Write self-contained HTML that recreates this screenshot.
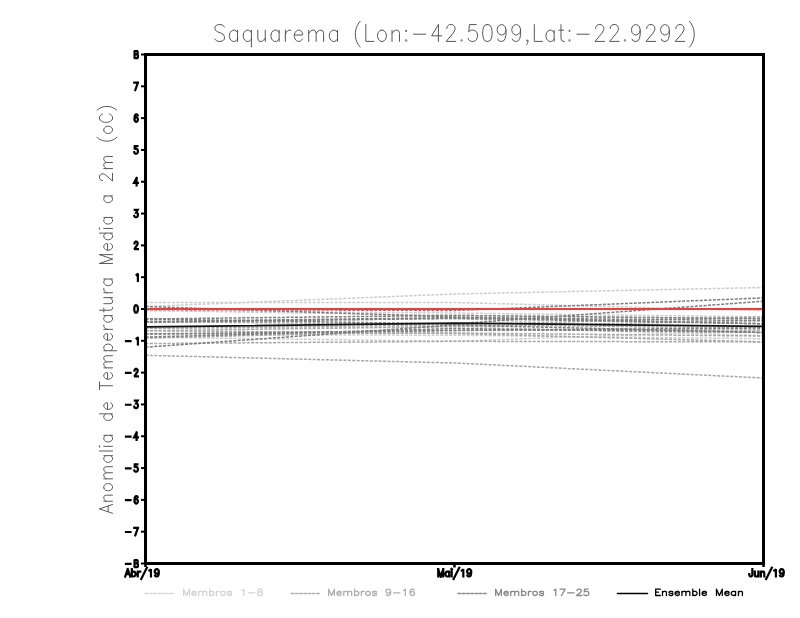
<!DOCTYPE html>
<html><head><meta charset="utf-8"><style>
html,body{margin:0;padding:0;background:#fff;width:800px;height:618px;overflow:hidden}
svg{display:block}
</style></head><body>
<svg width="800" height="618" viewBox="0 0 800 618">
<rect width="800" height="618" fill="#fff"/>
<g fill="none" stroke-linecap="round" stroke-linejoin="round">
<path d="M224.41,27.00L223.06,25.40 221.02,24.60 218.31,24.60 216.27,25.40 214.91,27.00 214.91,28.60 215.59,30.20 216.27,31.00 217.63,31.80 221.70,33.40 223.06,34.20 223.73,35.00 224.41,36.60 224.41,39.00 223.06,40.60 221.02,41.40 218.31,41.40 216.27,40.60 214.91,39.00M237.54,30.20L237.54,41.40M237.54,32.60L236.19,31.00 234.83,30.20 232.79,30.20 231.44,31.00 230.08,32.60 229.40,35.00 229.40,36.60 230.08,39.00 231.44,40.60 232.79,41.40 234.83,41.40 236.19,40.60 237.54,39.00M251.40,30.20L251.40,47.00M251.40,32.60L250.05,31.00 248.69,30.20 246.66,30.20 245.30,31.00 243.94,32.60 243.26,35.00 243.26,36.60 243.94,39.00 245.30,40.60 246.66,41.40 248.69,41.40 250.05,40.60 251.40,39.00M257.80,30.20L257.80,38.20 258.48,40.60 259.84,41.40 261.87,41.40 263.23,40.60 265.26,38.20M265.26,30.20L265.26,41.40M279.13,30.20L279.13,41.40M279.13,32.60L277.77,31.00 276.41,30.20 274.38,30.20 273.02,31.00 271.66,32.60 270.98,35.00 270.98,36.60 271.66,39.00 273.02,40.60 274.38,41.40 276.41,41.40 277.77,40.60 279.13,39.00M285.37,30.20L285.37,41.40M285.37,35.00L286.05,32.60 287.41,31.00 288.76,30.20 290.80,30.20M294.33,35.00L302.47,35.00 302.47,33.40 301.79,31.80 301.11,31.00 299.76,30.20 297.72,30.20 296.36,31.00 295.01,32.60 294.33,35.00 294.33,36.60 295.01,39.00 296.36,40.60 297.72,41.40 299.76,41.40 301.11,40.60 302.47,39.00M308.70,30.20L308.70,41.40M308.70,33.40L310.73,31.00 312.09,30.20 314.13,30.20 315.48,31.00 316.16,33.40 316.16,41.40M316.16,33.40L318.20,31.00 319.55,30.20 321.59,30.20 322.95,31.00 323.62,33.40 323.62,41.40M337.49,30.20L337.49,41.40M337.49,32.60L336.13,31.00 334.77,30.20 332.74,30.20 331.38,31.00 330.02,32.60 329.34,35.00 329.34,36.60 330.02,39.00 331.38,40.60 332.74,41.40 334.77,41.40 336.13,40.60 337.49,39.00M360.10,21.40L358.74,23.00 357.39,25.40 356.03,28.60 355.35,32.60 355.35,35.80 356.03,39.80 357.39,43.00 358.74,45.40 360.10,47.00M365.82,24.60L365.82,41.40 373.96,41.40M380.93,30.20L379.58,31.00 378.22,32.60 377.54,35.00 377.54,36.60 378.22,39.00 379.58,40.60 380.93,41.40 382.97,41.40 384.33,40.60 385.68,39.00 386.36,36.60 386.36,35.00 385.68,32.60 384.33,31.00 382.97,30.20 380.93,30.20M392.03,30.20L392.03,41.40M392.03,33.40L394.07,31.00 395.42,30.20 397.46,30.20 398.81,31.00 399.49,33.40 399.49,41.40M406.11,30.20L405.43,31.00 406.11,31.80 406.79,31.00 406.11,30.20M406.11,39.80L405.43,40.60 406.11,41.40 406.79,40.60 406.11,39.80M413.54,34.20L425.75,34.20M438.41,24.60L431.63,35.80 441.80,35.80M438.41,24.60L438.41,41.40M446.84,28.60L446.84,27.80 447.52,26.20 448.20,25.40 449.56,24.60 452.27,24.60 453.63,25.40 454.31,26.20 454.99,27.80 454.99,29.40 454.31,31.00 452.95,33.40 446.17,41.40 455.66,41.40M461.55,39.80L460.87,40.60 461.55,41.40 462.23,40.60 461.55,39.80M476.19,24.60L469.41,24.60 468.73,31.80 469.41,31.00 471.44,30.20 473.48,30.20 475.51,31.00 476.87,32.60 477.55,35.00 477.55,36.60 476.87,39.00 475.51,40.60 473.48,41.40 471.44,41.40 469.41,40.60 468.73,39.80 468.05,38.20M486.71,24.60L484.68,25.40 483.32,27.80 482.64,31.80 482.64,34.20 483.32,38.20 484.68,40.60 486.71,41.40 488.07,41.40 490.10,40.60 491.46,38.20 492.14,34.20 492.14,31.80 491.46,27.80 490.10,25.40 488.07,24.60 486.71,24.60M506.00,30.20L505.32,32.60 503.96,34.20 501.93,35.00 501.25,35.00 499.22,34.20 497.86,32.60 497.18,30.20 497.18,29.40 497.86,27.00 499.22,25.40 501.25,24.60 501.93,24.60 503.96,25.40 505.32,27.00 506.00,30.20 506.00,34.20 505.32,38.20 503.96,40.60 501.93,41.40 500.57,41.40 498.54,40.60 497.86,39.00M520.59,30.20L519.91,32.60 518.55,34.20 516.52,35.00 515.84,35.00 513.81,34.20 512.45,32.60 511.77,30.20 511.77,29.40 512.45,27.00 513.81,25.40 515.84,24.60 516.52,24.60 518.55,25.40 519.91,27.00 520.59,30.20 520.59,34.20 519.91,38.20 518.55,40.60 516.52,41.40 515.16,41.40 513.13,40.60 512.45,39.00M527.88,40.60L527.21,41.40 526.53,40.60 527.21,39.80 527.88,40.60 527.88,42.20 527.21,43.80 526.53,44.60M534.33,24.60L534.33,41.40 542.48,41.40M554.15,30.20L554.15,41.40M554.15,32.60L552.79,31.00 551.43,30.20 549.40,30.20 548.04,31.00 546.68,32.60 546.01,35.00 546.01,36.60 546.68,39.00 548.04,40.60 549.40,41.40 551.43,41.40 552.79,40.60 554.15,39.00M560.97,24.60L560.97,38.20 561.65,40.60 563.00,41.40 564.36,41.40M558.93,30.20L563.68,30.20M569.52,30.20L568.84,31.00 569.52,31.80 570.20,31.00 569.52,30.20M569.52,39.80L568.84,40.60 569.52,41.40 570.20,40.60 569.52,39.80M576.95,34.20L589.16,34.20M595.66,28.60L595.66,27.80 596.34,26.20 597.02,25.40 598.38,24.60 601.09,24.60 602.45,25.40 603.13,26.20 603.80,27.80 603.80,29.40 603.13,31.00 601.77,33.40 594.98,41.40 604.48,41.40M610.25,28.60L610.25,27.80 610.93,26.20 611.61,25.40 612.97,24.60 615.68,24.60 617.04,25.40 617.72,26.20 618.39,27.80 618.39,29.40 617.72,31.00 616.36,33.40 609.57,41.40 619.07,41.40M624.96,39.80L624.28,40.60 624.96,41.40 625.64,40.60 624.96,39.80M640.23,30.20L639.55,32.60 638.19,34.20 636.16,35.00 635.48,35.00 633.44,34.20 632.09,32.60 631.41,30.20 631.41,29.40 632.09,27.00 633.44,25.40 635.48,24.60 636.16,24.60 638.19,25.40 639.55,27.00 640.23,30.20 640.23,34.20 639.55,38.20 638.19,40.60 636.16,41.40 634.80,41.40 632.77,40.60 632.09,39.00M646.73,28.60L646.73,27.80 647.41,26.20 648.08,25.40 649.44,24.60 652.16,24.60 653.51,25.40 654.19,26.20 654.87,27.80 654.87,29.40 654.19,31.00 652.83,33.40 646.05,41.40 655.55,41.40M669.41,30.20L668.73,32.60 667.37,34.20 665.34,35.00 664.66,35.00 662.62,34.20 661.27,32.60 660.59,30.20 660.59,29.40 661.27,27.00 662.62,25.40 664.66,24.60 665.34,24.60 667.37,25.40 668.73,27.00 669.41,30.20 669.41,34.20 668.73,38.20 667.37,40.60 665.34,41.40 663.98,41.40 661.95,40.60 661.27,39.00M675.91,28.60L675.91,27.80 676.59,26.20 677.26,25.40 678.62,24.60 681.34,24.60 682.69,25.40 683.37,26.20 684.05,27.80 684.05,29.40 683.37,31.00 682.01,33.40 675.23,41.40 684.73,41.40M689.46,21.40L690.82,23.00 692.18,25.40 693.53,28.60 694.21,32.60 694.21,35.80 693.53,39.80 692.18,43.00 690.82,45.40 689.46,47.00" stroke="#555" stroke-width="1.0"/>
<path transform="translate(112.5,513.3) rotate(-90)" d="M4.42,-13.00L0.00,0.00M4.42,-13.00L8.84,0.00M1.66,-4.33L7.18,-4.33M12.06,-8.67L12.06,0.00M12.06,-6.19L13.72,-8.05 14.82,-8.67 16.48,-8.67 17.58,-8.05 18.13,-6.19 18.13,0.00M25.34,-8.67L24.23,-8.05 23.13,-6.81 22.58,-4.95 22.58,-3.71 23.13,-1.86 24.23,-0.62 25.34,0.00 26.99,0.00 28.10,-0.62 29.20,-1.86 29.75,-3.71 29.75,-4.95 29.20,-6.81 28.10,-8.05 26.99,-8.67 25.34,-8.67M34.46,-8.67L34.46,0.00M34.46,-6.19L36.11,-8.05 37.22,-8.67 38.87,-8.67 39.98,-8.05 40.53,-6.19 40.53,0.00M40.53,-6.19L42.19,-8.05 43.29,-8.67 44.95,-8.67 46.05,-8.05 46.60,-6.19 46.60,0.00M57.64,-8.67L57.64,0.00M57.64,-6.81L56.54,-8.05 55.43,-8.67 53.78,-8.67 52.67,-8.05 51.57,-6.81 51.02,-4.95 51.02,-3.71 51.57,-1.86 52.67,-0.62 53.78,0.00 55.43,0.00 56.54,-0.62 57.64,-1.86M62.29,-13.00L62.29,0.00M66.41,-13.00L66.97,-12.38 67.52,-13.00 66.97,-13.62 66.41,-13.00M66.97,-8.67L66.97,0.00M77.97,-8.67L77.97,0.00M77.97,-6.81L76.87,-8.05 75.77,-8.67 74.11,-8.67 73.01,-8.05 71.90,-6.81 71.35,-4.95 71.35,-3.71 71.90,-1.86 73.01,-0.62 74.11,0.00 75.77,0.00 76.87,-0.62 77.97,-1.86M99.47,-13.00L99.47,0.00M99.47,-6.81L98.37,-8.05 97.26,-8.67 95.61,-8.67 94.50,-8.05 93.40,-6.81 92.85,-4.95 92.85,-3.71 93.40,-1.86 94.50,-0.62 95.61,0.00 97.26,0.00 98.37,-0.62 99.47,-1.86M103.89,-4.95L110.51,-4.95 110.51,-6.19 109.96,-7.43 109.41,-8.05 108.30,-8.67 106.65,-8.67 105.54,-8.05 104.44,-6.81 103.89,-4.95 103.89,-3.71 104.44,-1.86 105.54,-0.62 106.65,0.00 108.30,0.00 109.41,-0.62 110.51,-1.86M127.56,-13.00L127.56,0.00M123.70,-13.00L131.43,-13.00M134.10,-4.95L140.72,-4.95 140.72,-6.19 140.17,-7.43 139.62,-8.05 138.52,-8.67 136.86,-8.67 135.76,-8.05 134.65,-6.81 134.10,-4.95 134.10,-3.71 134.65,-1.86 135.76,-0.62 136.86,0.00 138.52,0.00 139.62,-0.62 140.72,-1.86M145.43,-8.67L145.43,0.00M145.43,-6.19L147.08,-8.05 148.19,-8.67 149.84,-8.67 150.95,-8.05 151.50,-6.19 151.50,0.00M151.50,-6.19L153.16,-8.05 154.26,-8.67 155.92,-8.67 157.02,-8.05 157.57,-6.19 157.57,0.00M162.57,-8.67L162.57,4.33M162.57,-6.81L163.67,-8.05 164.78,-8.67 166.43,-8.67 167.54,-8.05 168.64,-6.81 169.19,-4.95 169.19,-3.71 168.64,-1.86 167.54,-0.62 166.43,0.00 164.78,0.00 163.67,-0.62 162.57,-1.86M173.03,-4.95L179.65,-4.95 179.65,-6.19 179.10,-7.43 178.55,-8.05 177.44,-8.67 175.79,-8.67 174.68,-8.05 173.58,-6.81 173.03,-4.95 173.03,-3.71 173.58,-1.86 174.68,-0.62 175.79,0.00 177.44,0.00 178.55,-0.62 179.65,-1.86M183.95,-8.67L183.95,0.00M183.95,-4.95L184.50,-6.81 185.61,-8.05 186.71,-8.67 188.36,-8.67M197.66,-8.67L197.66,0.00M197.66,-6.81L196.56,-8.05 195.45,-8.67 193.80,-8.67 192.69,-8.05 191.59,-6.81 191.04,-4.95 191.04,-3.71 191.59,-1.86 192.69,-0.62 193.80,0.00 195.45,0.00 196.56,-0.62 197.66,-1.86M203.04,-13.00L203.04,-2.48 203.59,-0.62 204.69,0.00 205.79,0.00M201.38,-8.67L205.24,-8.67M209.60,-8.67L209.60,-2.48 210.15,-0.62 211.26,0.00 212.91,0.00 214.02,-0.62 215.67,-2.48M215.67,-8.67L215.67,0.00M220.55,-8.67L220.55,0.00M220.55,-4.95L221.10,-6.81 222.21,-8.05 223.31,-8.67 224.97,-8.67M234.26,-8.67L234.26,0.00M234.26,-6.81L233.16,-8.05 232.06,-8.67 230.40,-8.67 229.30,-8.05 228.19,-6.81 227.64,-4.95 227.64,-3.71 228.19,-1.86 229.30,-0.62 230.40,0.00 232.06,0.00 233.16,-0.62 234.26,-1.86M249.83,-13.00L249.83,0.00M249.83,-13.00L254.25,0.00M258.67,-13.00L254.25,0.00M258.67,-13.00L258.67,0.00M263.08,-4.95L269.70,-4.95 269.70,-6.19 269.15,-7.43 268.60,-8.05 267.50,-8.67 265.84,-8.67 264.74,-8.05 263.63,-6.81 263.08,-4.95 263.08,-3.71 263.63,-1.86 264.74,-0.62 265.84,0.00 267.50,0.00 268.60,-0.62 269.70,-1.86M280.16,-13.00L280.16,0.00M280.16,-6.81L279.06,-8.05 277.96,-8.67 276.30,-8.67 275.20,-8.05 274.09,-6.81 273.54,-4.95 273.54,-3.71 274.09,-1.86 275.20,-0.62 276.30,0.00 277.96,0.00 279.06,-0.62 280.16,-1.86M284.29,-13.00L284.84,-12.38 285.39,-13.00 284.84,-13.62 284.29,-13.00M284.84,-8.67L284.84,0.00M295.85,-8.67L295.85,0.00M295.85,-6.81L294.75,-8.05 293.64,-8.67 291.99,-8.67 290.88,-8.05 289.78,-6.81 289.23,-4.95 289.23,-3.71 289.78,-1.86 290.88,-0.62 291.99,0.00 293.64,0.00 294.75,-0.62 295.85,-1.86M317.35,-8.67L317.35,0.00M317.35,-6.81L316.24,-8.05 315.14,-8.67 313.48,-8.67 312.38,-8.05 311.28,-6.81 310.72,-4.95 310.72,-3.71 311.28,-1.86 312.38,-0.62 313.48,0.00 315.14,0.00 316.24,-0.62 317.35,-1.86M332.83,-9.90L332.83,-10.52 333.38,-11.76 333.93,-12.38 335.04,-13.00 337.25,-13.00 338.35,-12.38 338.90,-11.76 339.45,-10.52 339.45,-9.29 338.90,-8.05 337.80,-6.19 332.28,0.00 340.01,0.00M344.71,-8.67L344.71,0.00M344.71,-6.19L346.37,-8.05 347.47,-8.67 349.13,-8.67 350.23,-8.05 350.78,-6.19 350.78,0.00M350.78,-6.19L352.44,-8.05 353.54,-8.67 355.20,-8.67 356.30,-8.05 356.85,-6.19 356.85,0.00M376.03,-15.47L374.92,-14.24 373.82,-12.38 372.72,-9.90 372.16,-6.81 372.16,-4.33 372.72,-1.24 373.82,1.24 374.92,3.09 376.03,4.33M382.65,-8.67L381.55,-8.05 380.44,-6.81 379.89,-4.95 379.89,-3.71 380.44,-1.86 381.55,-0.62 382.65,0.00 384.31,0.00 385.41,-0.62 386.52,-1.86 387.07,-3.71 387.07,-4.95 386.52,-6.81 385.41,-8.05 384.31,-8.67 382.65,-8.67M399.27,-9.90L398.72,-11.14 397.61,-12.38 396.51,-13.00 394.30,-13.00 393.20,-12.38 392.09,-11.14 391.54,-9.90 390.99,-8.05 390.99,-4.95 391.54,-3.09 392.09,-1.86 393.20,-0.62 394.30,0.00 396.51,0.00 397.61,-0.62 398.72,-1.86 399.27,-3.09M402.96,-15.47L404.06,-14.24 405.17,-12.38 406.27,-9.90 406.82,-6.81 406.82,-4.33 406.27,-1.24 405.17,1.24 404.06,3.09 402.96,4.33" stroke="#5a5a5a" stroke-width="1.0"/>
</g>
<g fill="none" stroke-width="1.5" stroke-dasharray="3 1.4">
<polyline points="145.5,306.5 454.5,294 763.5,287.5" stroke="#cdcdcd"/>
<polyline points="145.5,302.4 454.5,302.5 763.5,310.6" stroke="#cdcdcd"/>
<polyline points="145.5,310.5 454.5,313 763.5,316.9" stroke="#cdcdcd"/>
<polyline points="145.5,334.6 454.5,335.25 763.5,338.75" stroke="#cdcdcd"/>
<polyline points="145.5,328.4 454.5,326.6 763.5,335.6" stroke="#cdcdcd"/>
<polyline points="145.5,310.5 454.5,315.4 763.5,318.75" stroke="#cdcdcd"/>
<polyline points="145.5,322.3 454.5,318.4 763.5,332.5" stroke="#cdcdcd"/>
<polyline points="145.5,337.2 454.5,341.3 763.5,330" stroke="#cdcdcd"/>
<polyline points="145.5,328.4 454.5,324.75 763.5,316.9" stroke="#a6a6a6"/>
<polyline points="145.5,330.7 454.5,326.6 763.5,320.6" stroke="#a6a6a6"/>
<polyline points="145.5,355.3 454.5,363 763.5,378" stroke="#a6a6a6"/>
<polyline points="145.5,343.6 454.5,341.3 763.5,341.9" stroke="#a6a6a6"/>
<polyline points="145.5,338.1 454.5,330.4 763.5,330" stroke="#a6a6a6"/>
<polyline points="145.5,321.5 454.5,324.75 763.5,328" stroke="#a6a6a6"/>
<polyline points="145.5,333.9 454.5,333 763.5,336" stroke="#a6a6a6"/>
<polyline points="145.5,330.7 454.5,333.5 763.5,341.9" stroke="#a6a6a6"/>
<polyline points="145.5,309.5 454.5,310.5 763.5,297.9" stroke="#7c7c7c"/>
<polyline points="145.5,319 454.5,324 763.5,301.25" stroke="#7c7c7c"/>
<polyline points="145.5,319 454.5,315.4 763.5,318.75" stroke="#7c7c7c"/>
<polyline points="145.5,321.5 454.5,317.6 763.5,320.6" stroke="#7c7c7c"/>
<polyline points="145.5,322.3 454.5,318.4 763.5,323.75" stroke="#7c7c7c"/>
<polyline points="145.5,333.9 454.5,330.4 763.5,328" stroke="#7c7c7c"/>
<polyline points="145.5,337.2 454.5,328.5 763.5,332.5" stroke="#7c7c7c"/>
<polyline points="145.5,347.2 454.5,325 763.5,332.5" stroke="#7c7c7c"/>
<polyline points="145.5,306.5 454.5,317 763.5,323.75" stroke="#7c7c7c"/>
</g>
<polyline points="145.5,309.0 763.5,309.0" fill="none" stroke="rgb(250,55,55)" stroke-width="2"/>
<polyline points="145.5,326.9 454.5,323.1 763.5,326.3" fill="none" stroke="#111" stroke-width="1.8"/>
<g stroke="#000" stroke-width="2">
<line x1="141" y1="563.50" x2="145" y2="563.50"/>
<line x1="141" y1="531.69" x2="145" y2="531.69"/>
<line x1="141" y1="499.88" x2="145" y2="499.88"/>
<line x1="141" y1="468.06" x2="145" y2="468.06"/>
<line x1="141" y1="436.25" x2="145" y2="436.25"/>
<line x1="141" y1="404.44" x2="145" y2="404.44"/>
<line x1="141" y1="372.62" x2="145" y2="372.62"/>
<line x1="141" y1="340.81" x2="145" y2="340.81"/>
<line x1="141" y1="309.00" x2="145" y2="309.00"/>
<line x1="141" y1="277.19" x2="145" y2="277.19"/>
<line x1="141" y1="245.38" x2="145" y2="245.38"/>
<line x1="141" y1="213.56" x2="145" y2="213.56"/>
<line x1="141" y1="181.75" x2="145" y2="181.75"/>
<line x1="141" y1="149.94" x2="145" y2="149.94"/>
<line x1="141" y1="118.12" x2="145" y2="118.12"/>
<line x1="141" y1="86.31" x2="145" y2="86.31"/>
<line x1="141" y1="54.50" x2="145" y2="54.50"/>
<line x1="454.5" y1="565" x2="454.5" y2="567.5" stroke-width="2.5"/>
<line x1="145.5" y1="565" x2="145.5" y2="567" stroke-width="2.5"/>
<line x1="763.5" y1="565" x2="763.5" y2="567" stroke-width="2.5"/>
</g>
<rect x="145.5" y="54.5" width="618" height="509" fill="none" stroke="#000" stroke-width="3"/>
<g fill="none" stroke="#000" stroke-linecap="square" stroke-linejoin="miter" stroke-miterlimit="2" stroke-width="2.2">
<path d="M134.78,563.30L137.12,563.30 137.64,562.59 137.64,560.81 137.12,560.10 134.78,560.10 134.52,560.46 134.52,566.85 134.78,567.20 137.38,567.20 137.90,566.31 137.90,564.18 137.38,563.30M126.0,563.80L130.5,563.80M137.90,527.93L135.30,535.39M134.26,527.93L137.90,527.93M126.0,531.99L130.5,531.99M137.64,497.19L137.38,496.47 136.60,496.12 136.08,496.12 135.30,496.47 134.78,497.54 134.52,499.31 134.52,501.09 134.78,502.51 135.30,503.22 136.08,503.57 136.34,503.57 137.12,503.22 137.64,502.51 137.90,501.44 137.90,501.09 137.64,500.02 137.12,499.31 136.34,498.96 136.08,498.96 135.30,499.31 134.78,500.02 134.52,501.09M126.0,500.18L130.5,500.18M137.38,464.31L134.78,464.31 134.52,467.50 134.78,467.15 135.56,466.79 136.34,466.79 137.12,467.15 137.64,467.86 137.90,468.92 137.90,469.63 137.64,470.70 137.12,471.41 136.34,471.76 135.56,471.76 134.78,471.41 134.52,471.05 134.26,470.34M126.0,468.36L130.5,468.36M136.60,432.50L134.00,437.46 137.90,437.46M136.60,432.50L136.60,439.95M126.0,436.55L130.5,436.55M134.78,400.68L137.64,400.68 136.08,403.52 136.86,403.52 137.38,403.88 137.64,404.23 137.90,405.30 137.90,406.01 137.64,407.07 137.12,407.78 136.34,408.14 135.56,408.14 134.78,407.78 134.52,407.43 134.26,406.72M126.0,404.74L130.5,404.74M134.52,370.64L134.52,370.29 134.78,369.58 135.04,369.22 135.56,368.87 136.60,368.87 137.12,369.22 137.38,369.58 137.64,370.29 137.64,371.00 137.38,371.71 136.86,372.77 134.26,376.32 137.90,376.32M126.0,372.93L130.5,372.93M136.60,338.48L137.12,338.12 137.90,337.06 137.90,344.51M126.0,341.11L130.5,341.11M135.82,305.25L135.04,305.60 134.52,306.66 134.26,308.44 134.26,309.50 134.52,311.28 135.04,312.34 135.82,312.70 136.34,312.70 137.12,312.34 137.64,311.28 137.90,309.50 137.90,308.44 137.64,306.66 137.12,305.60 136.34,305.25 135.82,305.25M136.60,274.85L137.12,274.50 137.90,273.43 137.90,280.89M134.52,243.39L134.52,243.04 134.78,242.33 135.04,241.97 135.56,241.62 136.60,241.62 137.12,241.97 137.38,242.33 137.64,243.04 137.64,243.75 137.38,244.46 136.86,245.52 134.26,249.07 137.90,249.07M134.78,209.81L137.64,209.81 136.08,212.65 136.86,212.65 137.38,213.00 137.64,213.36 137.90,214.42 137.90,215.13 137.64,216.20 137.12,216.91 136.34,217.26 135.56,217.26 134.78,216.91 134.52,216.55 134.26,215.84M136.60,177.99L134.00,182.96 137.90,182.96M136.60,177.99L136.60,185.45M137.38,146.18L134.78,146.18 134.52,149.38 134.78,149.02 135.56,148.67 136.34,148.67 137.12,149.02 137.64,149.73 137.90,150.80 137.90,151.51 137.64,152.57 137.12,153.28 136.34,153.64 135.56,153.64 134.78,153.28 134.52,152.93 134.26,152.22M137.64,115.44L137.38,114.73 136.60,114.37 136.08,114.37 135.30,114.73 134.78,115.79 134.52,117.56 134.52,119.34 134.78,120.76 135.30,121.47 136.08,121.83 136.34,121.83 137.12,121.47 137.64,120.76 137.90,119.70 137.90,119.34 137.64,118.28 137.12,117.56 136.34,117.21 136.08,117.21 135.30,117.56 134.78,118.28 134.52,119.34M137.90,82.56L135.30,90.01M134.26,82.56L137.90,82.56M134.78,54.30L137.12,54.30 137.64,53.59 137.64,51.81 137.12,51.10 134.78,51.10 134.52,51.46 134.52,57.85 134.78,58.20 137.38,58.20 137.90,57.31 137.90,55.18 137.38,54.30"/>
<path d="M127.71,569.15L125.20,576.50M127.71,569.15L130.22,576.50M126.14,574.05L129.28,574.05M131.79,569.15L131.79,576.50M131.79,572.65L132.42,571.95 133.05,571.60 133.99,571.60 134.62,571.95 135.25,572.65 135.56,573.70 135.56,574.40 135.25,575.45 134.62,576.15 133.99,576.50 133.05,576.50 132.42,576.15 131.79,575.45M137.76,571.60L137.76,576.50M137.76,573.70L138.07,572.65 138.70,571.95 139.33,571.60 140.27,571.60M146.87,567.75L141.21,578.95M149.38,570.55L150.01,570.20 150.95,569.15 150.95,576.50M158.80,571.60L158.48,572.65 157.86,573.35 156.91,573.70 156.60,573.70 155.66,573.35 155.03,572.65 154.72,571.60 154.72,571.25 155.03,570.20 155.66,569.50 156.60,569.15 156.91,569.15 157.86,569.50 158.48,570.20 158.80,571.60 158.80,573.35 158.48,575.10 157.86,576.15 156.91,576.50 156.29,576.50 155.34,576.15 155.03,575.45M438.20,569.15L438.20,576.50M438.20,569.15L440.71,576.50M443.22,569.15L440.71,576.50M443.22,569.15L443.22,576.50M449.19,571.60L449.19,576.50M449.19,572.65L448.56,571.95 447.93,571.60 446.99,571.60 446.36,571.95 445.74,572.65 445.42,573.70 445.42,574.40 445.74,575.45 446.36,576.15 446.99,576.50 447.93,576.50 448.56,576.15 449.19,575.45M451.39,569.15L451.70,569.50 452.02,569.15 451.70,568.80 451.39,569.15M451.70,571.60L451.70,576.50M459.24,567.75L453.59,578.95M461.75,570.55L462.38,570.20 463.32,569.15 463.32,576.50M471.17,571.60L470.86,572.65 470.23,573.35 469.29,573.70 468.97,573.70 468.03,573.35 467.40,572.65 467.09,571.60 467.09,571.25 467.40,570.20 468.03,569.50 468.97,569.15 469.29,569.15 470.23,569.50 470.86,570.20 471.17,571.60 471.17,573.35 470.86,575.10 470.23,576.15 469.29,576.50 468.66,576.50 467.72,576.15 467.40,575.45M752.34,569.15L752.34,574.75 752.03,575.80 751.71,576.15 751.08,576.50 750.46,576.50 749.83,576.15 749.51,575.80 749.20,574.75 749.20,574.05M754.85,571.60L754.85,575.10 755.17,576.15 755.79,576.50 756.74,576.50 757.36,576.15 758.31,575.10M758.31,571.60L758.31,576.50M760.82,571.60L760.82,576.50M760.82,573.00L761.76,571.95 762.39,571.60 763.33,571.60 763.96,571.95 764.27,573.00 764.27,576.50M771.81,567.75L766.16,578.95M774.32,570.55L774.95,570.20 775.89,569.15 775.89,576.50M783.74,571.60L783.43,572.65 782.80,573.35 781.86,573.70 781.54,573.70 780.60,573.35 779.97,572.65 779.66,571.60 779.66,571.25 779.97,570.20 780.60,569.50 781.54,569.15 781.86,569.15 782.80,569.50 783.43,570.20 783.74,571.60 783.74,573.35 783.43,575.10 782.80,576.15 781.86,576.50 781.23,576.50 780.29,576.15 779.97,575.45"/>
</g>
<g fill="none" stroke-linecap="round" stroke-linejoin="round" stroke-width="1.3">
<line x1="145" y1="593.5" x2="174.5" y2="593.5" stroke="#d8d8d8" stroke-width="1.3" stroke-dasharray="2.8 1.45"/>
<path d="M183.65,589.20L183.65,595.50M183.65,589.20L186.53,595.50M189.41,589.20L186.53,595.50M189.41,589.20L189.41,595.50M191.93,593.10L196.25,593.10 196.25,592.50 195.89,591.90 195.53,591.60 194.81,591.30 193.73,591.30 193.01,591.60 192.29,592.20 191.93,593.10 191.93,593.70 192.29,594.60 193.01,595.20 193.73,595.50 194.81,595.50 195.53,595.20 196.25,594.60M198.77,591.30L198.77,595.50M198.77,592.50L199.85,591.60 200.57,591.30 201.65,591.30 202.37,591.60 202.73,592.50 202.73,595.50M202.73,592.50L203.81,591.60 204.53,591.30 205.61,591.30 206.33,591.60 206.69,592.50 206.69,595.50M209.57,589.20L209.57,595.50M209.57,592.20L210.29,591.60 211.01,591.30 212.09,591.30 212.81,591.60 213.53,592.20 213.89,593.10 213.89,593.70 213.53,594.60 212.81,595.20 212.09,595.50 211.01,595.50 210.29,595.20 209.57,594.60M216.41,591.30L216.41,595.50M216.41,593.10L216.77,592.20 217.49,591.60 218.21,591.30 219.29,591.30M222.53,591.30L221.81,591.60 221.09,592.20 220.73,593.10 220.73,593.70 221.09,594.60 221.81,595.20 222.53,595.50 223.61,595.50 224.33,595.20 225.05,594.60 225.41,593.70 225.41,593.10 225.05,592.20 224.33,591.60 223.61,591.30 222.53,591.30M231.53,592.20L231.17,591.60 230.09,591.30 229.01,591.30 227.93,591.60 227.57,592.20 227.93,592.80 228.65,593.10 230.45,593.40 231.17,593.70 231.53,594.30 231.53,594.60 231.17,595.20 230.09,595.50 229.01,595.50 227.93,595.20 227.57,594.60M241.97,590.40L242.69,590.10 243.77,589.20 243.77,595.50M248.45,592.80L254.93,592.80M259.25,589.20L258.17,589.50 257.81,590.10 257.81,590.70 258.17,591.30 258.89,591.60 260.33,591.90 261.41,592.20 262.13,592.80 262.49,593.40 262.49,594.30 262.13,594.90 261.77,595.20 260.69,595.50 259.25,595.50 258.17,595.20 257.81,594.90 257.45,594.30 257.45,593.40 257.81,592.80 258.53,592.20 259.61,591.90 261.05,591.60 261.77,591.30 262.13,590.70 262.13,590.10 261.77,589.50 260.69,589.20 259.25,589.20" stroke="#d4d4d4"/>
<line x1="291" y1="593.5" x2="320.5" y2="593.5" stroke="#b0b0b0" stroke-width="1.3" stroke-dasharray="2.8 1.45"/>
<path d="M328.65,589.20L328.65,595.50M328.65,589.20L331.53,595.50M334.41,589.20L331.53,595.50M334.41,589.20L334.41,595.50M336.93,593.10L341.25,593.10 341.25,592.50 340.89,591.90 340.53,591.60 339.81,591.30 338.73,591.30 338.01,591.60 337.29,592.20 336.93,593.10 336.93,593.70 337.29,594.60 338.01,595.20 338.73,595.50 339.81,595.50 340.53,595.20 341.25,594.60M343.77,591.30L343.77,595.50M343.77,592.50L344.85,591.60 345.57,591.30 346.65,591.30 347.37,591.60 347.73,592.50 347.73,595.50M347.73,592.50L348.81,591.60 349.53,591.30 350.61,591.30 351.33,591.60 351.69,592.50 351.69,595.50M354.57,589.20L354.57,595.50M354.57,592.20L355.29,591.60 356.01,591.30 357.09,591.30 357.81,591.60 358.53,592.20 358.89,593.10 358.89,593.70 358.53,594.60 357.81,595.20 357.09,595.50 356.01,595.50 355.29,595.20 354.57,594.60M361.41,591.30L361.41,595.50M361.41,593.10L361.77,592.20 362.49,591.60 363.21,591.30 364.29,591.30M367.53,591.30L366.81,591.60 366.09,592.20 365.73,593.10 365.73,593.70 366.09,594.60 366.81,595.20 367.53,595.50 368.61,595.50 369.33,595.20 370.05,594.60 370.41,593.70 370.41,593.10 370.05,592.20 369.33,591.60 368.61,591.30 367.53,591.30M376.53,592.20L376.17,591.60 375.09,591.30 374.01,591.30 372.93,591.60 372.57,592.20 372.93,592.80 373.65,593.10 375.45,593.40 376.17,593.70 376.53,594.30 376.53,594.60 376.17,595.20 375.09,595.50 374.01,595.50 372.93,595.20 372.57,594.60M390.57,591.30L390.21,592.20 389.49,592.80 388.41,593.10 388.05,593.10 386.97,592.80 386.25,592.20 385.89,591.30 385.89,591.00 386.25,590.10 386.97,589.50 388.05,589.20 388.41,589.20 389.49,589.50 390.21,590.10 390.57,591.30 390.57,592.80 390.21,594.30 389.49,595.20 388.41,595.50 387.69,595.50 386.61,595.20 386.25,594.60M393.45,592.80L399.93,592.80M403.53,590.40L404.25,590.10 405.33,589.20 405.33,595.50M414.33,590.10L413.97,589.50 412.89,589.20 412.17,589.20 411.09,589.50 410.37,590.40 410.01,591.90 410.01,593.40 410.37,594.60 411.09,595.20 412.17,595.50 412.53,595.50 413.61,595.20 414.33,594.60 414.69,593.70 414.69,593.40 414.33,592.50 413.61,591.90 412.53,591.60 412.17,591.60 411.09,591.90 410.37,592.50 410.01,593.40" stroke="#aeaeae"/>
<line x1="458" y1="593.5" x2="487.5" y2="593.5" stroke="#888" stroke-width="1.3" stroke-dasharray="2.8 1.45"/>
<path d="M495.65,589.20L495.65,595.50M495.65,589.20L498.53,595.50M501.41,589.20L498.53,595.50M501.41,589.20L501.41,595.50M503.93,593.10L508.25,593.10 508.25,592.50 507.89,591.90 507.53,591.60 506.81,591.30 505.73,591.30 505.01,591.60 504.29,592.20 503.93,593.10 503.93,593.70 504.29,594.60 505.01,595.20 505.73,595.50 506.81,595.50 507.53,595.20 508.25,594.60M510.77,591.30L510.77,595.50M510.77,592.50L511.85,591.60 512.57,591.30 513.65,591.30 514.37,591.60 514.73,592.50 514.73,595.50M514.73,592.50L515.81,591.60 516.53,591.30 517.61,591.30 518.33,591.60 518.69,592.50 518.69,595.50M521.57,589.20L521.57,595.50M521.57,592.20L522.29,591.60 523.01,591.30 524.09,591.30 524.81,591.60 525.53,592.20 525.89,593.10 525.89,593.70 525.53,594.60 524.81,595.20 524.09,595.50 523.01,595.50 522.29,595.20 521.57,594.60M528.41,591.30L528.41,595.50M528.41,593.10L528.77,592.20 529.49,591.60 530.21,591.30 531.29,591.30M534.53,591.30L533.81,591.60 533.09,592.20 532.73,593.10 532.73,593.70 533.09,594.60 533.81,595.20 534.53,595.50 535.61,595.50 536.33,595.20 537.05,594.60 537.41,593.70 537.41,593.10 537.05,592.20 536.33,591.60 535.61,591.30 534.53,591.30M543.53,592.20L543.17,591.60 542.09,591.30 541.01,591.30 539.93,591.60 539.57,592.20 539.93,592.80 540.65,593.10 542.45,593.40 543.17,593.70 543.53,594.30 543.53,594.60 543.17,595.20 542.09,595.50 541.01,595.50 539.93,595.20 539.57,594.60M553.97,590.40L554.69,590.10 555.77,589.20 555.77,595.50M565.13,589.20L561.53,595.50M560.09,589.20L565.13,589.20M567.65,592.80L574.13,592.80M577.01,590.70L577.01,590.40 577.37,589.80 577.73,589.50 578.45,589.20 579.89,589.20 580.61,589.50 580.97,589.80 581.33,590.40 581.33,591.00 580.97,591.60 580.25,592.50 576.65,595.50 581.69,595.50M588.17,589.20L584.57,589.20 584.21,591.90 584.57,591.60 585.65,591.30 586.73,591.30 587.81,591.60 588.53,592.20 588.89,593.10 588.89,593.70 588.53,594.60 587.81,595.20 586.73,595.50 585.65,595.50 584.57,595.20 584.21,594.90 583.85,594.30" stroke="#888"/>
<line x1="617.5" y1="593.5" x2="647.5" y2="593.5" stroke="#000" stroke-width="1.5"/>
<path d="M655.65,589.20L655.65,595.50M655.65,589.20L660.33,589.20M655.65,592.20L658.53,592.20M655.65,595.50L660.33,595.50M662.49,591.30L662.49,595.50M662.49,592.50L663.57,591.60 664.29,591.30 665.37,591.30 666.09,591.60 666.45,592.50 666.45,595.50M672.93,592.20L672.57,591.60 671.49,591.30 670.41,591.30 669.33,591.60 668.97,592.20 669.33,592.80 670.05,593.10 671.85,593.40 672.57,593.70 672.93,594.30 672.93,594.60 672.57,595.20 671.49,595.50 670.41,595.50 669.33,595.20 668.97,594.60M675.09,593.10L679.41,593.10 679.41,592.50 679.05,591.90 678.69,591.60 677.97,591.30 676.89,591.30 676.17,591.60 675.45,592.20 675.09,593.10 675.09,593.70 675.45,594.60 676.17,595.20 676.89,595.50 677.97,595.50 678.69,595.20 679.41,594.60M681.93,591.30L681.93,595.50M681.93,592.50L683.01,591.60 683.73,591.30 684.81,591.30 685.53,591.60 685.89,592.50 685.89,595.50M685.89,592.50L686.97,591.60 687.69,591.30 688.77,591.30 689.49,591.60 689.85,592.50 689.85,595.50M692.73,589.20L692.73,595.50M692.73,592.20L693.45,591.60 694.17,591.30 695.25,591.30 695.97,591.60 696.69,592.20 697.05,593.10 697.05,593.70 696.69,594.60 695.97,595.20 695.25,595.50 694.17,595.50 693.45,595.20 692.73,594.60M699.57,589.20L699.57,595.50M702.09,593.10L706.41,593.10 706.41,592.50 706.05,591.90 705.69,591.60 704.97,591.30 703.89,591.30 703.17,591.60 702.45,592.20 702.09,593.10 702.09,593.70 702.45,594.60 703.17,595.20 703.89,595.50 704.97,595.50 705.69,595.20 706.41,594.60M716.49,589.20L716.49,595.50M716.49,589.20L719.37,595.50M722.25,589.20L719.37,595.50M722.25,589.20L722.25,595.50M724.77,593.10L729.09,593.10 729.09,592.50 728.73,591.90 728.37,591.60 727.65,591.30 726.57,591.30 725.85,591.60 725.13,592.20 724.77,593.10 724.77,593.70 725.13,594.60 725.85,595.20 726.57,595.50 727.65,595.50 728.37,595.20 729.09,594.60M735.57,591.30L735.57,595.50M735.57,592.20L734.85,591.60 734.13,591.30 733.05,591.30 732.33,591.60 731.61,592.20 731.25,593.10 731.25,593.70 731.61,594.60 732.33,595.20 733.05,595.50 734.13,595.50 734.85,595.20 735.57,594.60M738.45,591.30L738.45,595.50M738.45,592.50L739.53,591.60 740.25,591.30 741.33,591.30 742.05,591.60 742.41,592.50 742.41,595.50" stroke="#000"/>
</g>
</svg>
</body></html>
